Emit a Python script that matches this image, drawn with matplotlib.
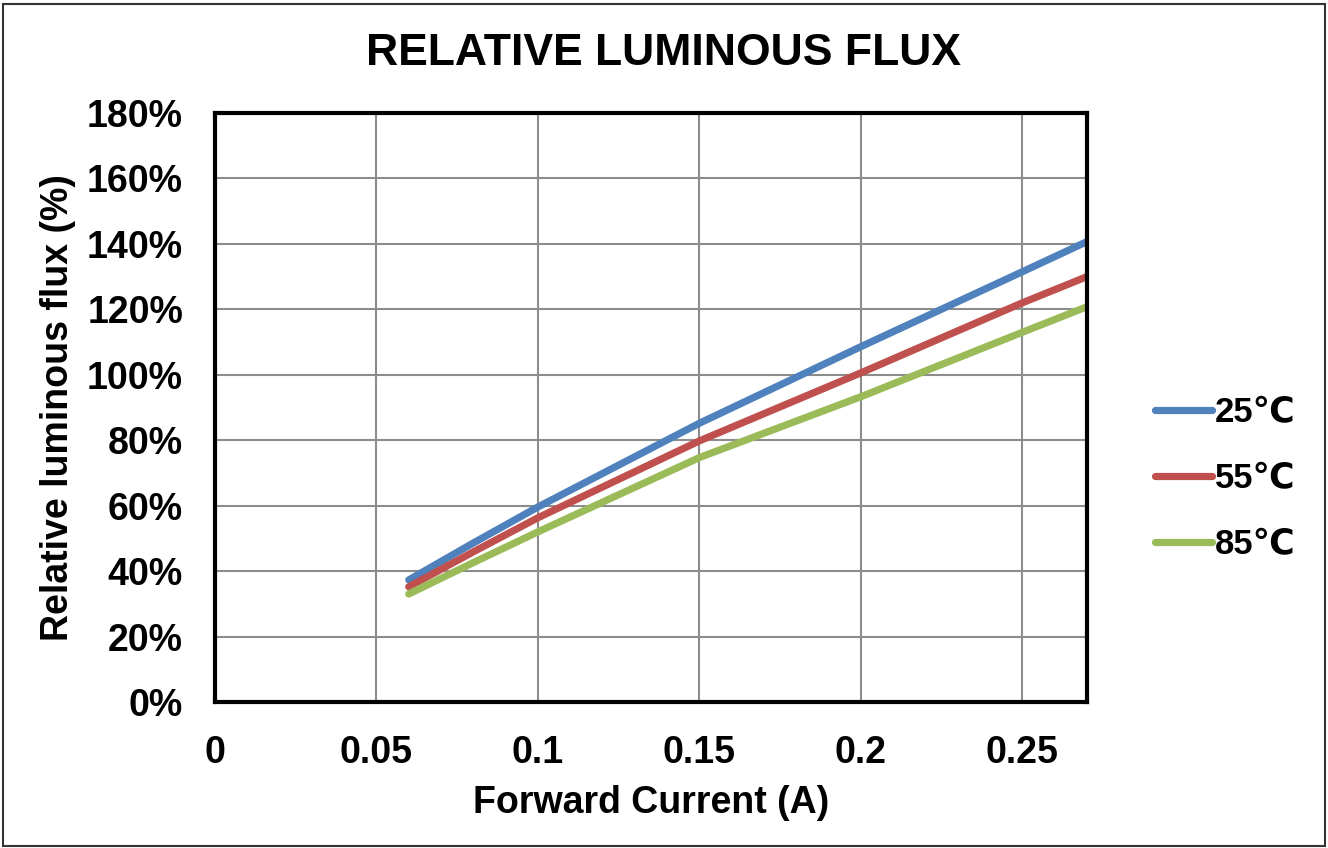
import matplotlib
matplotlib.use('Agg')
import matplotlib.pyplot as plt
from matplotlib.patches import Rectangle

plt.rcParams['font.family'] = ['Liberation Sans', 'DejaVu Sans']
plt.rcParams['font.weight'] = 'bold'

# forward current (A) and relative flux (%)
current = [0.06, 0.08, 0.1, 0.15, 0.2, 0.25, 0.27]
flux_25 = [37.3, 48.6, 59.6, 85.2, 108.6, 131.5, 140.7]
flux_55 = [35.2, 45.9, 56.3, 79.8, 100.6, 122.0, 130.0]
flux_85 = [33.0, 42.6, 52.0, 74.7, 93.3, 113.0, 120.8]

labels = ['25\u2103', '55\u2103', '85\u2103']
colors = ['#4F81BD', '#C0504D', '#9BBB59']

fig = plt.figure(figsize=(13.28, 8.48), dpi=100)
fig.patches.append(Rectangle((0.002, 0.002), 0.996, 0.993, transform=fig.transFigure,
                             fill=False, edgecolor='#333333', linewidth=1.5))

ax = fig.add_axes([0.1619, 0.1722, 0.6566, 0.6945])

for y, lab, c in zip([flux_25, flux_55, flux_85], labels, colors):
    ax.plot(current, y, color=c, linewidth=5.2, label=lab, solid_capstyle='round')

ax.set_xlim(0, 0.27)
ax.set_ylim(0, 180)
ax.set_xticks([0, 0.05, 0.1, 0.15, 0.2, 0.25])
ax.set_xticklabels(['0', '0.05', '0.1', '0.15', '0.2', '0.25'])
ax.set_yticks(range(0, 181, 20))
ax.set_yticklabels(['{}%'.format(v) for v in range(0, 181, 20)])
ax.tick_params(labelsize=27, length=0)
ax.tick_params(axis='y', pad=23)
ax.tick_params(axis='x', pad=24)
ax.grid(True, color='#8c8c8c', linewidth=1.5)
ax.set_axisbelow(True)
for s in ax.spines.values():
    s.set_linewidth(3)
    s.set_color('black')

ax.set_xlabel('Forward Current (A)', fontsize=27, fontweight='bold', labelpad=10)
ax.set_ylabel('Relative luminous flux (%)', fontsize=27, fontweight='bold', labelpad=8)
fig.text(0.5, 0.937, 'RELATIVE LUMINOUS FLUX', ha='center', va='center',
         fontsize=32, fontweight='bold')

leg = fig.legend(loc='center left', bbox_to_anchor=(0.846, 0.435), frameon=False,
                 fontsize=25, handlelength=1.64, handletextpad=0.1, labelspacing=0.95)

plt.savefig('out.png', dpi=100)
